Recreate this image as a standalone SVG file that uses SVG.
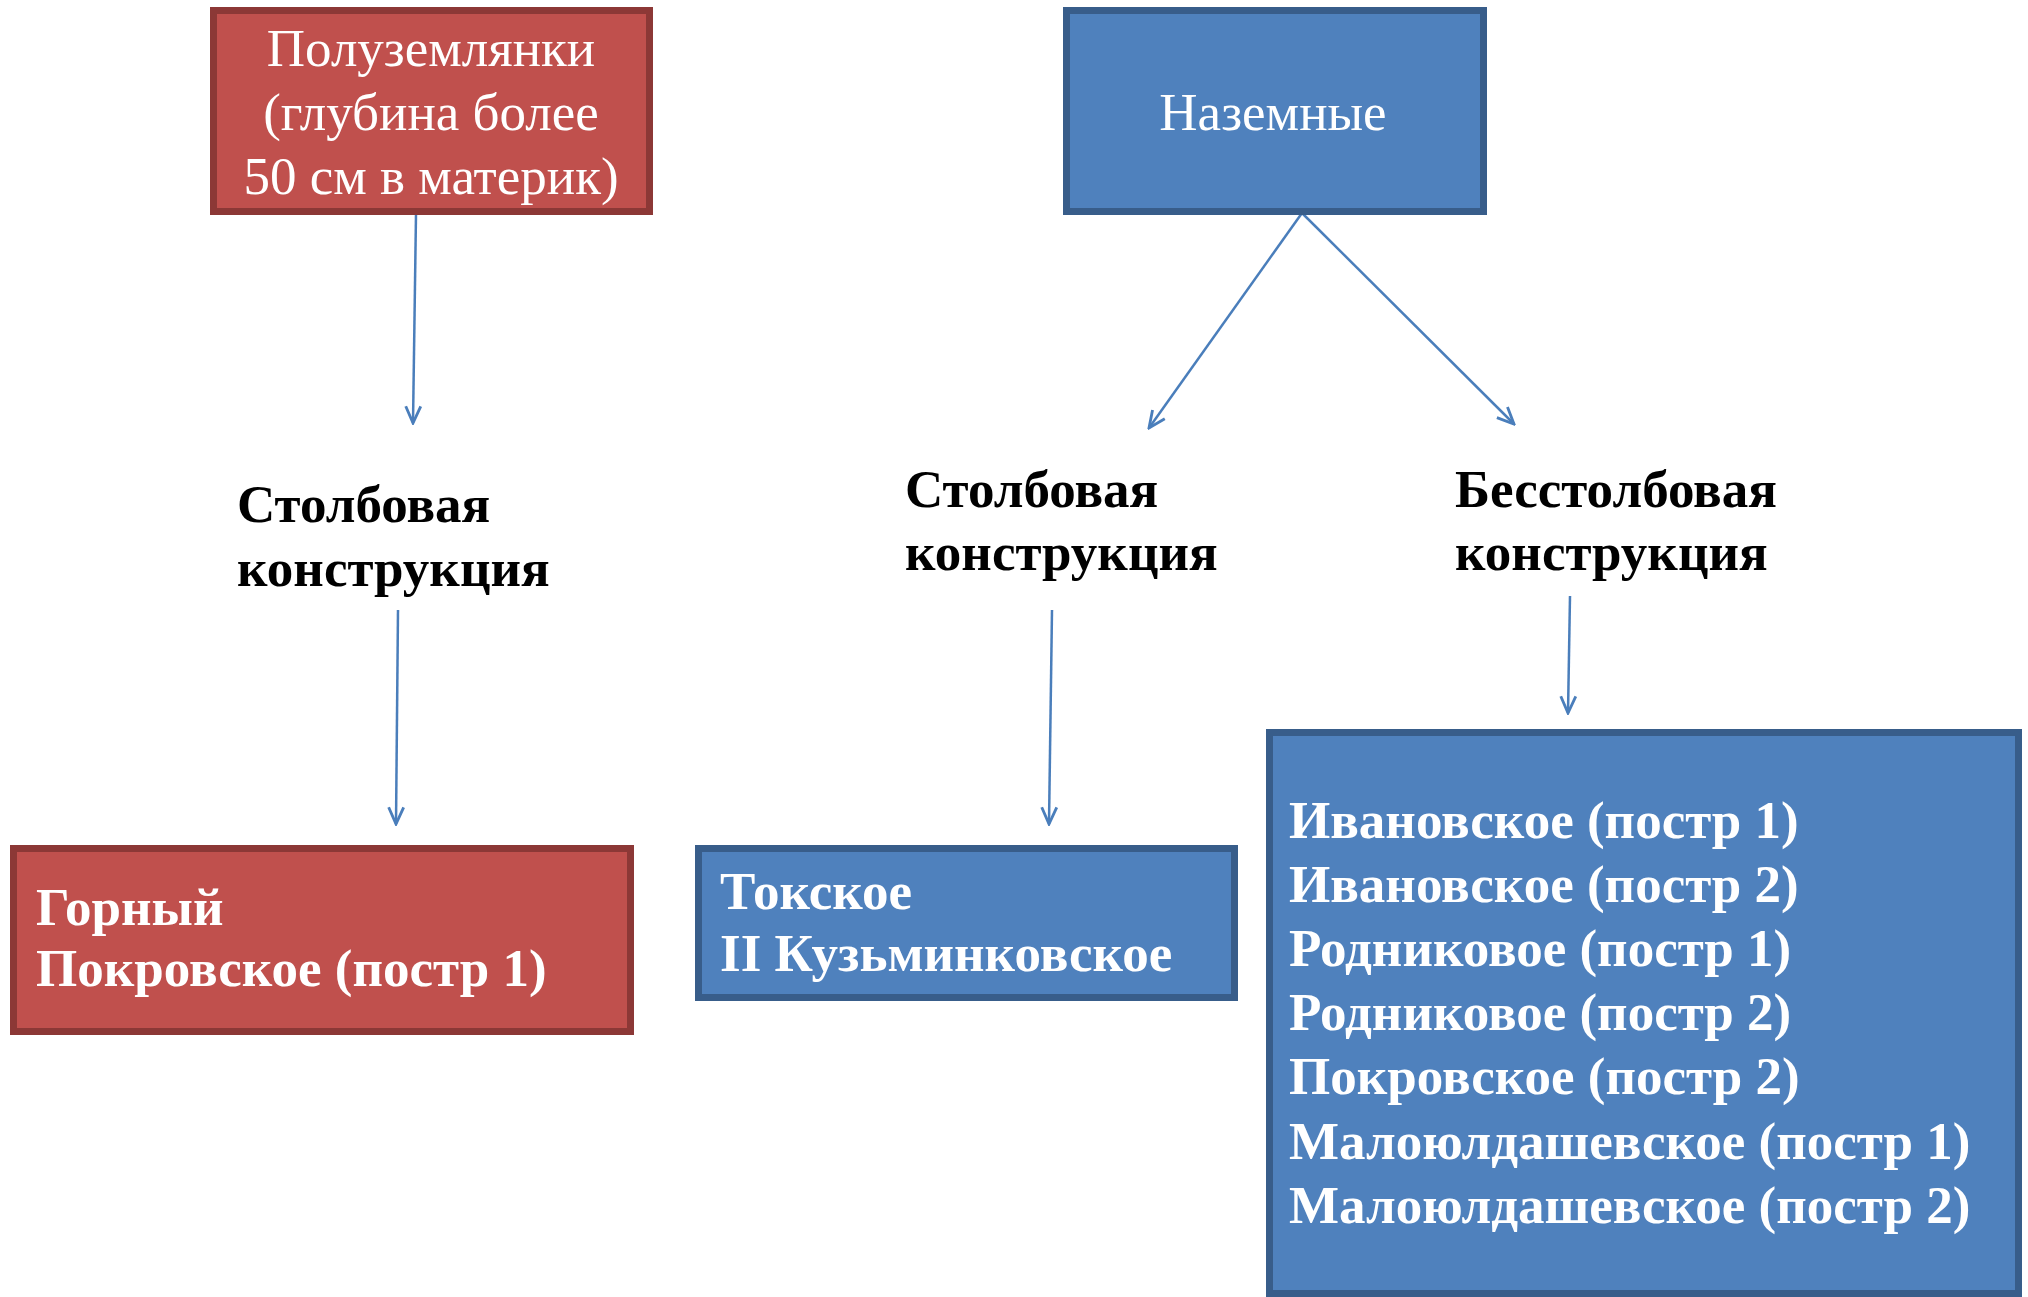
<svg xmlns="http://www.w3.org/2000/svg" width="2028" height="1297" viewBox="0 0 2028 1297">
<style>
.red{fill:#C0504D;stroke:#8C3836;stroke-width:7}
.blue{fill:#4F81BD;stroke:#385D8A;stroke-width:7}
.reg{font-family:"Liberation Serif","Times New Roman",serif;font-size:53px;fill:#fff}
.bw{font-family:"Liberation Serif","Times New Roman",serif;font-size:53px;font-weight:bold;fill:#fff}
.bk{font-family:"Liberation Serif","Times New Roman",serif;font-size:53px;font-weight:bold;fill:#000}
.conn{stroke:#4A7EBB;stroke-width:2.5;fill:none}
</style>
<defs>
<marker id="arr" viewBox="0 0 12 12" refX="11" refY="6" markerWidth="20" markerHeight="20" orient="auto" markerUnits="userSpaceOnUse">
<path d="M1,1.5 L11,6 L1,10.5" fill="none" stroke="#4A7EBB" stroke-width="1.7"/>
</marker>
</defs>
<rect width="2028" height="1297" fill="#fff"/>
<g id="connectors">
<line class="conn" x1="416" y1="214" x2="413" y2="423" marker-end="url(#arr)"/>
<line class="conn" x1="398" y1="610" x2="396" y2="824" marker-end="url(#arr)"/>
<line class="conn" x1="1302" y1="213" x2="1149" y2="428" marker-end="url(#arr)"/>
<line class="conn" x1="1302" y1="213" x2="1514" y2="424" marker-end="url(#arr)"/>
<line class="conn" x1="1052" y1="610" x2="1049" y2="824" marker-end="url(#arr)"/>
<line class="conn" x1="1570" y1="596" x2="1568" y2="713" marker-end="url(#arr)"/>
</g>
<g id="node-poluzemlyanki">
<rect class="red" x="213.5" y="10.5" width="436" height="201"/>
<text class="reg" text-anchor="middle" x="431" y="66">Полуземлянки</text>
<text class="reg" text-anchor="middle" x="431" y="130">(глубина более</text>
<text class="reg" text-anchor="middle" x="431" y="194">50 см в материк)</text>
</g>
<g id="node-nazemnye">
<rect class="blue" x="1066.5" y="10.5" width="417" height="201"/>
<text class="reg" text-anchor="middle" x="1273" y="130">Наземные</text>
</g>
<g id="label-stolb-left">
<text class="bk" x="237" y="522">Столбовая</text>
<text class="bk" x="237" y="586">конструкция</text>
</g>
<g id="label-stolb-mid">
<text class="bk" x="905" y="507">Столбовая</text>
<text class="bk" x="905" y="570">конструкция</text>
</g>
<g id="label-besstolb">
<text class="bk" x="1455" y="507">Бесстолбовая</text>
<text class="bk" x="1455" y="570">конструкция</text>
</g>
<g id="node-gorny">
<rect class="red" x="13.5" y="848.5" width="617" height="183"/>
<text class="bw" x="36" y="925">Горный</text>
<text class="bw" x="36" y="986">Покровское (постр 1)</text>
</g>
<g id="node-tokskoe">
<rect class="blue" x="698.5" y="848.5" width="536" height="149"/>
<text class="bw" x="720" y="909">Токское</text>
<text class="bw" x="720" y="971">II Кузьминковское</text>
</g>
<g id="node-list">
<rect class="blue" x="1269.5" y="732.5" width="749" height="561"/>
<text class="bw" x="1289" y="838">Ивановское (постр 1)</text>
<text class="bw" x="1289" y="902">Ивановское (постр 2)</text>
<text class="bw" x="1289" y="966">Родниковое (постр 1)</text>
<text class="bw" x="1289" y="1030">Родниковое (постр 2)</text>
<text class="bw" x="1289" y="1094">Покровское (постр 2)</text>
<text class="bw" x="1289" y="1159">Малоюлдашевское (постр 1)</text>
<text class="bw" x="1289" y="1223">Малоюлдашевское (постр 2)</text>
</g>
</svg>
